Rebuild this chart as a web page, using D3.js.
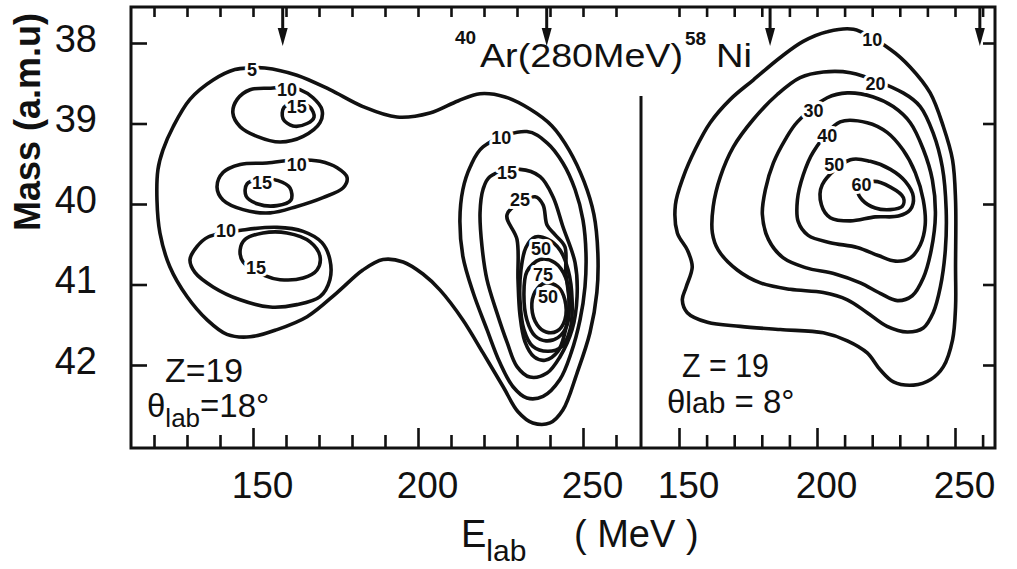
<!DOCTYPE html>
<html>
<head>
<meta charset="utf-8">
<script src="https://cdn.jsdelivr.net/npm/d3@7"></script>
<style>
  body { margin: 0; background: #fff; }
  svg { display: block; }
  text { font-family: "Liberation Sans", Arial, sans-serif; fill: #111; }
</style>
</head>
<body>
<svg id="chart" width="1017" height="569"></svg>
<script>
// ---- data: contour lines as [E_lab (MeV), mass (a.m.u)] ----
// left panel, theta_lab = 18 deg
const left5 = [[149.1,38.31],[153.6,38.31],[163.3,38.40],[173.3,38.58],[183.3,38.79],[193.6,38.92],[203.6,38.87],[212.1,38.72],[218.8,38.63],[226.4,38.67],[233.9,38.82],[240.6,39.03],[245.8,39.33],[250.3,39.72],[253.3,40.13],[254.5,40.61],[254.2,41.10],[252.1,41.60],[248.2,42.10],[243.9,42.56],[240.0,42.72],[234.8,42.72],[230.3,42.58],[225.8,42.27],[219.7,41.85],[213.6,41.44],[206.7,41.07],[201.5,40.87],[195.5,40.72],[189.4,40.69],[183.3,40.82],[175.5,41.10],[166.4,41.40],[157.3,41.56],[149.1,41.65],[142.1,41.62],[136.1,41.44],[130.0,41.15],[124.8,40.78],[121.8,40.36],[120.9,39.95],[121.2,39.57],[122.7,39.33],[125.8,39.04],[130.9,38.70],[137.9,38.46],[144.5,38.33]]
const left10a = [[156.1,38.56],[149.1,38.58],[145.2,38.70],[143.9,38.87],[146.1,39.04],[151.2,39.16],[158.2,39.23],[165.2,39.16],[170.3,38.99],[170.9,38.83],[168.2,38.68],[164.2,38.58],[159.7,38.54]]
const left15a = [[159.4,38.80],[159.1,38.94],[162.1,39.03],[166.4,39.00],[168.5,38.92],[167.3,38.80],[163.3,38.74]]
const left10b = [[154.2,39.49],[146.1,39.51],[140.9,39.61],[139.1,39.79],[140.9,39.95],[147.0,40.07],[155.2,40.11],[163.3,40.03],[171.2,39.92],[177.3,39.80],[178.5,39.67],[175.5,39.55],[170.3,39.47],[163.6,39.45]]
const left15b = [[148.2,39.75],[147.9,39.90],[151.5,40.00],[157.3,40.02],[161.5,39.95],[161.2,39.80],[157.6,39.71],[152.7,39.69]]
const left10c = [[136.4,40.41],[133.0,40.53],[130.9,40.69],[132.4,40.85],[137.9,41.03],[146.1,41.19],[155.2,41.28],[163.3,41.25],[170.3,41.15],[173.3,40.94],[173.3,40.69],[170.9,40.48],[165.2,40.34],[157.3,40.29],[147.6,40.32]]
const left15c = [[147.0,40.72],[146.1,40.57],[147.6,40.44],[153.0,40.36],[160.3,40.36],[167.3,40.47],[170.3,40.65],[169.4,40.82],[165.2,40.92],[158.2,40.94],[153.6,40.89]]
const left10d = [[219.7,39.29],[233.0,39.10],[239.1,39.24],[243.9,39.49],[247.6,39.82],[250.0,40.20],[250.9,40.61],[250.6,41.03],[249.1,41.44],[246.4,41.85],[243.0,42.18],[237.9,42.39],[233.0,42.41],[228.8,42.27],[224.8,41.97],[220.9,41.56],[216.7,41.10],[213.6,40.65],[212.7,40.20],[213.6,39.82],[215.8,39.54]]
const left15d = [[221.8,39.66],[230.9,39.57],[237.0,39.66],[240.9,39.91],[243.9,40.28],[247.6,40.73],[248.2,41.15],[246.7,41.56],[243.0,41.90],[239.1,42.10],[233.9,42.15],[230.0,42.02],[227.0,41.72],[223.9,41.35],[220.9,40.94],[219.4,40.53],[218.8,40.11],[219.7,39.82]]
const left25 = [[227.0,40.13],[230.0,40.44],[230.3,40.94],[230.9,41.38],[232.4,41.71],[235.2,41.90],[238.5,41.94],[242.4,41.83],[244.5,41.60],[245.8,41.25],[244.8,40.85],[244.5,40.53],[241.5,40.38],[239.1,40.26],[237.9,40.01],[235.5,39.91]]
const left50 = [[235.5,40.41],[239.4,40.44],[243.0,40.57],[245.5,40.82],[246.7,41.19],[246.1,41.56],[243.6,41.77],[239.4,41.83],[234.8,41.77],[232.1,41.56],[230.9,41.19],[231.2,40.82],[232.7,40.54]]
const left75 = [[237.0,40.69],[241.5,40.73],[244.8,40.92],[245.8,41.19],[245.2,41.50],[242.4,41.66],[238.8,41.70],[235.5,41.64],[233.0,41.44],[232.1,41.13],[233.0,40.84]]
const leftInner = [[238.5,40.98],[242.4,41.03],[244.5,41.19],[244.5,41.44],[242.1,41.58],[238.8,41.59],[236.1,41.50],[234.5,41.29],[235.5,41.09]]

// right panel, theta_lab = 8 deg
const right10 = [[213.2,37.83],[203.7,37.86],[195.0,37.98],[186.7,38.18],[176.9,38.46],[168.6,38.70],[161.3,38.99],[155.9,39.32],[151.6,39.66],[148.7,40.01],[149.4,40.36],[153.0,40.57],[154.8,40.78],[152.6,41.03],[151.2,41.19],[153.0,41.35],[160.3,41.47],[172.2,41.52],[186.7,41.56],[202.3,41.60],[211.0,41.70],[218.2,41.85],[222.9,42.06],[227.7,42.21],[235.0,42.25],[241.2,42.18],[245.8,42.02],[249.1,41.69],[250.2,41.28],[250.2,40.79],[250.2,39.95],[249.1,39.45],[245.8,39.04],[241.0,38.62],[233.8,38.30],[226.6,38.08]]
const right20 = [[212.1,38.37],[202.3,38.36],[193.9,38.43],[185.6,38.64],[176.9,38.95],[169.7,39.29],[165.0,39.66],[162.4,40.03],[162.1,40.36],[164.2,40.57],[171.1,40.82],[179.5,40.98],[190.3,41.06],[202.3,41.10],[211.0,41.19],[218.2,41.35],[225.4,41.52],[232.7,41.59],[238.5,41.54],[242.1,41.35],[244.7,41.03],[246.5,40.57],[246.8,40.07],[245.4,39.54],[242.1,39.12],[237.4,38.79],[231.2,38.62]]
const right30 = [[203.7,38.68],[211.0,38.62],[220.4,38.67],[227.6,38.79],[233.8,38.99],[238.5,39.32],[241.8,39.70],[242.9,40.13],[241.4,40.57],[238.5,40.92],[234.5,41.14],[229.1,41.20],[222.9,41.11],[215.7,40.98],[206.6,40.87],[195.8,40.79],[187.8,40.67],[182.4,40.44],[180.2,40.13],[181.3,39.82],[184.2,39.49],[188.5,39.20],[192.9,38.98]]
const right40 = [[208.4,38.98],[218.2,38.99],[225.4,39.11],[231.2,39.33],[235.6,39.61],[238.5,39.95],[239.2,40.26],[237.4,40.51],[233.8,40.67],[228.4,40.71],[222.2,40.64],[214.6,40.54],[204.8,40.48],[196.8,40.39],[193.2,40.22],[192.9,39.95],[195.0,39.64],[198.7,39.35]]
const right50 = [[212.1,39.45],[219.3,39.47],[226.6,39.57],[232.0,39.72],[234.9,39.91],[233.8,40.07],[229.5,40.15],[221.1,40.16],[212.1,40.21],[204.8,40.17],[201.6,40.01],[201.9,39.76]]
const right60 = [[220.4,39.72],[226.6,39.79],[231.3,39.92],[230.9,40.03],[226.6,40.07],[221.1,40.05],[216.4,39.95],[215.0,39.85]]

const leftContours = [left5, left10a, left15a, left10b, left15b, left10c, left15c, left10d, left15d, left25, left50, left75, leftInner]
const rightContours = [right10, right20, right30, right40, right50, right60]

// contour level labels: [text, E, mass]
const leftLabels = [['5',149.7,38.33],['10',160.3,38.59],['15',163.3,38.80],['10',163.3,39.51],['15',152.7,39.74],['10',141.8,40.34],['15',150.9,40.79],['10',225.2,39.18],['15',227.0,39.61],['25',230.9,39.95],['50',237.3,40.56],['75',237.9,40.88],['50',239.4,41.16]]
const rightLabels = [['10',220.0,37.96],['20',221.2,38.51],['30',198.7,38.85],['40',203.7,39.16],['50',206.3,39.51],['60',216.1,39.77]]

// axis ticks
const massTicks = [38, 39, 40, 41, 42]
const leftETicks = d3.range(120, 261, 10)
const rightETicks = d3.range(150, 261, 10)
const eLabels = [150, 200, 250]
// arrows on top axis (MeV)
const leftArrows = [159, 239]
const rightArrows = [183, 259]

// ---- layout ----
const frame = { left: 131, right: 995, top: 7, bottom: 448 }
const divider = 641

const svg = d3.select('#chart')

const xLeft = d3.scaleLinear().domain([120, 260]).range([154, 616])
const xRight = d3.scaleLinear().domain([150, 250]).range([679, 955])
const y = d3.scaleLinear().domain([38, 42]).range([43, 365])

const line = (sx) => d3.line()
  .x(d => sx(d[0]))
  .y(d => y(d[1]))
  .curve(d3.curveCatmullRomClosed.alpha(0.5))

function drawContours(contours, labels, sx) {
  const g = svg.append('g').attr('class', 'contours')
  g.selectAll('path')
    .data(contours)
    .enter().append('path')
      .attr('d', line(sx))
      .attr('fill', 'none')
      .attr('stroke', '#111')
      .attr('stroke-width', 3.6)
      .attr('stroke-linejoin', 'round')

  g.selectAll('text')
    .data(labels)
    .enter().append('text')
      .attr('x', d => sx(d[1]))
      .attr('y', d => y(d[2]))
      .attr('text-anchor', 'middle')
      .attr('dominant-baseline', 'central')
      .style('font-size', '18px')
      .style('font-weight', 'bold')
      .style('paint-order', 'stroke')
      .style('stroke', '#fff')
      .style('stroke-width', '6px')
      .style('stroke-linejoin', 'round')
      .text(d => d[0])
}

function styleAxis(g) {
  g.select('.domain').remove()
  g.selectAll('.tick line').attr('stroke', '#111').attr('stroke-width', 2.6)
}

function drawAxes() {
  // bottom ticks, pointing up into the plot
  ;[[xLeft, leftETicks], [xRight, rightETicks]].forEach(([sx, vals]) => {
    const g = svg.append('g')
      .attr('transform', `translate(0,${frame.bottom})`)
      .call(d3.axisBottom(sx).tickValues(vals).tickSize(-13).tickFormat(''))
    styleAxis(g)
    g.selectAll('.tick line').filter(d => eLabels.includes(d)).attr('y2', -20)

    const lab = svg.append('g')
      .attr('transform', `translate(0,${frame.bottom})`)
      .call(d3.axisBottom(sx).tickValues(eLabels).tickSize(0).tickPadding(24))
    lab.select('.domain').remove()
    lab.selectAll('text')
      .attr('dx', 9)
      .style('font-size', '37px')
      .style('font-family', '"Liberation Sans", Arial, sans-serif')
      .attr('fill', '#111')
  })

  // top ticks, pointing down
  ;[[xLeft, leftETicks], [xRight, rightETicks]].forEach(([sx, vals]) => {
    const g = svg.append('g')
      .attr('transform', `translate(0,${frame.top})`)
      .call(d3.axisTop(sx).tickValues(vals).tickSize(-10).tickFormat(''))
    styleAxis(g)
  })

  // left mass axis
  const yl = svg.append('g')
    .attr('transform', `translate(${frame.left},0)`)
    .call(d3.axisLeft(y).tickValues(massTicks).tickSize(-16).tickPadding(34).tickFormat(d3.format('d')))
  styleAxis(yl)
  yl.selectAll('text')
    .attr('dy', '0.22em')
    .style('font-size', '38px')
    .style('font-family', '"Liberation Sans", Arial, sans-serif')
    .attr('fill', '#111')

  // right mass ticks
  const yr = svg.append('g')
    .attr('transform', `translate(${frame.right},0)`)
    .call(d3.axisRight(y).tickValues(massTicks).tickSize(-12).tickFormat(''))
  styleAxis(yr)
}

function drawFrame() {
  svg.append('rect')
    .attr('x', frame.left).attr('y', frame.top)
    .attr('width', frame.right - frame.left)
    .attr('height', frame.bottom - frame.top)
    .attr('fill', 'none')
    .attr('stroke', '#111')
    .attr('stroke-width', 3)

  svg.append('line')
    .attr('x1', divider).attr('x2', divider)
    .attr('y1', 96).attr('y2', frame.bottom)
    .attr('stroke', '#111')
    .attr('stroke-width', 3)
}

function drawArrows() {
  const arrows = leftArrows.map(e => xLeft(e)).concat(rightArrows.map(e => xRight(e)))
  const g = svg.append('g').attr('class', 'arrows')
  g.selectAll('line')
    .data(arrows)
    .enter().append('line')
      .attr('x1', d => d).attr('x2', d => d)
      .attr('y1', frame.top).attr('y2', 32)
      .attr('stroke', '#111').attr('stroke-width', 3)
  g.selectAll('path')
    .data(arrows)
    .enter().append('path')
      .attr('d', d => `M${d - 5},28 L${d + 5},28 L${d},46 Z`)
      .attr('fill', '#111')
}

function drawTexts() {
  // title: 40Ar(280MeV)58Ni
  svg.append('text').attr('x', 455).attr('y', 44)
    .style('font-size', '19px').style('font-weight', 'bold').text('40')
  svg.append('text').attr('x', 480).attr('y', 67)
    .attr('textLength', 203).attr('lengthAdjust', 'spacingAndGlyphs')
    .style('font-size', '33px').text('Ar(280MeV)')
  svg.append('text').attr('x', 685).attr('y', 45)
    .style('font-size', '19px').style('font-weight', 'bold').text('58')
  svg.append('text').attr('x', 716).attr('y', 67)
    .attr('textLength', 36).attr('lengthAdjust', 'spacingAndGlyphs')
    .style('font-size', '33px').text('Ni')

  // left panel notes
  svg.append('text').attr('x', 165).attr('y', 382)
    .attr('textLength', 78).attr('lengthAdjust', 'spacingAndGlyphs')
    .style('font-size', '33px').text('Z=19')
  const t1 = svg.append('text').attr('x', 147).attr('y', 417).style('font-size', '33px')
  t1.append('tspan').text('θ')
  t1.append('tspan').attr('dy', 10).style('font-size', '26px').text('lab')
  t1.append('tspan').attr('dy', -10).text('=18°')

  // right panel notes
  svg.append('text').attr('x', 682).attr('y', 377)
    .attr('textLength', 87).attr('lengthAdjust', 'spacingAndGlyphs')
    .style('font-size', '33px').text('Z = 19')
  const t2 = svg.append('text').attr('x', 667).attr('y', 413).style('font-size', '33px')
  t2.append('tspan').text('θ')
  t2.append('tspan').style('font-size', '30px').text('lab')
  t2.append('tspan').text(' = 8°')

  // axis titles
  svg.append('text')
    .attr('transform', 'translate(40,122) rotate(-90)')
    .attr('text-anchor', 'middle')
    .style('font-size', '36px').style('font-weight', 'bold')
    .text('Mass (a.m.u)')

  const xt = svg.append('text').attr('x', 461).attr('y', 547).style('font-size', '38px')
  xt.append('tspan').text('E')
  xt.append('tspan').attr('dy', 14).style('font-size', '30px').text('lab')
  xt.append('tspan').attr('x', 574).attr('dy', -14).text('( MeV )')
}

drawFrame()
drawAxes()
drawContours(leftContours, leftLabels, xLeft)
drawContours(rightContours, rightLabels, xRight)
drawArrows()
drawTexts()
</script>
</body>
</html>
